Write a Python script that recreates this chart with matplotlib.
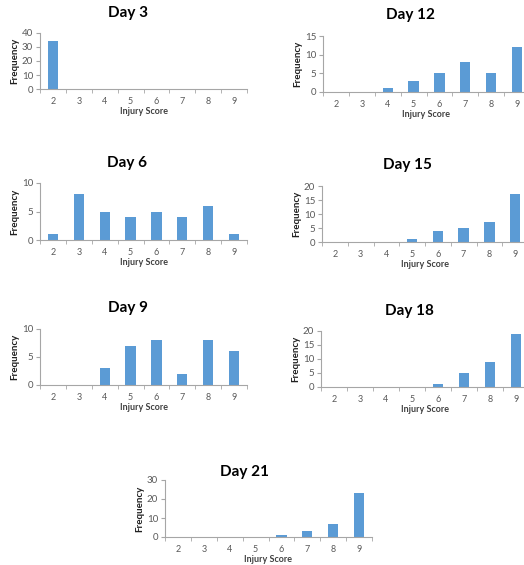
import matplotlib
matplotlib.use("Agg")
import matplotlib.pyplot as plt
import numpy as np

plt.rcParams["font.family"] = ["Lato", "DejaVu Sans"]

scores = [2, 3, 4, 5, 6, 7, 8, 9]

day3 = [34, 0, 0, 0, 0, 0, 0, 0]
day6 = [1, 8, 5, 4, 5, 4, 6, 1]
day9 = [0, 0, 3, 7, 8, 2, 8, 6]
day12 = [0, 0, 1, 3, 5, 8, 5, 12]
day15 = [0, 0, 0, 1, 4, 5, 7, 17]
day18 = [0, 0, 0, 0, 1, 5, 9, 19]
day21 = [0, 0, 0, 0, 1, 3, 7, 23]

W, H = 524, 565
fig = plt.figure(figsize=(W / 100, H / 100), dpi=100)
fig.patch.set_facecolor("white")

bar_col = "#5B9BD5"
axis_col = "#A6A6A6"
txt_col = "#595959"


def panel(left, right, top, bottom, title, tx, ty, vals, ymax, ystep):
    ax = fig.add_axes([left / W, 1 - bottom / H, (right - left) / W, (bottom - top) / H])
    ax.bar(scores, vals, width=0.4, color=bar_col)
    ax.set_xlim(1.5, 9.5)
    ax.set_ylim(0, ymax)
    ax.set_yticks(np.arange(0, ymax + 1, ystep))
    ax.set_xticks(scores)
    ax.set_xticks(np.arange(1.5, 9.6, 1), minor=True)
    ax.tick_params(axis="x", which="major", length=0, pad=6, labelsize=6.5, labelcolor=txt_col)
    ax.tick_params(axis="x", which="minor", length=3, color=axis_col, direction="out")
    ax.tick_params(axis="y", length=3, color=axis_col, labelsize=7, labelcolor=txt_col, pad=2)
    for s in ["top", "right"]:
        ax.spines[s].set_visible(False)
    for s in ["left", "bottom"]:
        ax.spines[s].set_color(axis_col)
        ax.spines[s].set_linewidth(0.8)
    fig.text(tx / W, 1 - ty / H, title, fontsize=11, fontweight="bold",
             ha="center", va="center")
    ax.set_xlabel("Injury Score", fontsize=6.5, fontweight="bold", color="#404040", labelpad=0.5)
    ax.set_ylabel("Frequency", fontsize=7, fontweight="bold", color="#202020", labelpad=1.5)
    return ax


panel(40, 247, 33, 89, "Day 3", 128, 13, day3, 40, 10)
panel(323, 530, 36, 92, "Day 12", 410, 15, day12, 15, 5)
panel(40, 247, 183, 240, "Day 6", 127, 163, day6, 10, 5)
panel(322, 528, 186, 242, "Day 15", 407, 165, day15, 20, 5)
panel(40, 247, 329, 385, "Day 9", 128, 308, day9, 10, 5)
panel(321, 529, 331, 387, "Day 18", 409, 311, day18, 20, 5)
panel(165, 372, 480, 537, "Day 21", 245, 472, day21, 30, 10)

fig.savefig("out.png", dpi=100)
